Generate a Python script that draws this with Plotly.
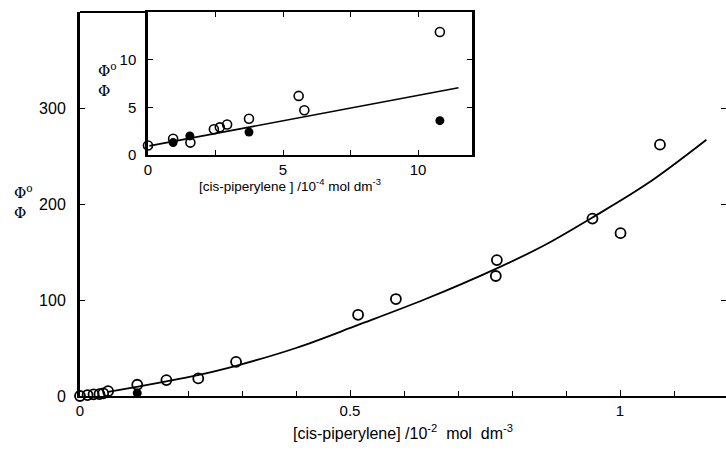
import plotly.graph_objects as go

# ---------------- main plot data (x in 10^-2 mol dm^-3) ----------------
main_open_x = [0.0, 0.014, 0.025, 0.036, 0.043, 0.052, 0.106, 0.16, 0.219, 0.289,
               0.515, 0.585, 0.772, 0.770, 0.949, 1.001, 1.074]
main_open_y = [0.0, 1.0, 1.7, 2.0, 2.8, 5.0, 11.7, 16.6, 18.3, 35.6,
               84.6, 101.0, 141.6, 125.0, 184.8, 169.6, 261.8]
main_filled_x = [0.106]
main_filled_y = [3.0]
main_curve_x = [0.052, 0.105, 0.16, 0.216, 0.289, 0.4, 0.515, 0.64, 0.772, 0.86,
                0.949, 1.05, 1.16]
main_curve_y = [4.2, 9.5, 15.2, 21.5, 31.5, 50.0, 74.0, 101.0, 133.0, 157.0,
                186.0, 221.0, 267.0]

# ---------------- inset data (x in 10^-4 mol dm^-3) ----------------
inset_open_x = [0.0, 0.93, 1.57, 2.44, 2.66, 2.93, 3.74, 5.58, 5.79, 10.81]
inset_open_y = [1.0, 1.7, 1.3, 2.7, 2.9, 3.2, 3.8, 6.2, 4.7, 12.9]
inset_filled_x = [0.93, 1.55, 3.74, 10.81]
inset_filled_y = [1.3, 2.0, 2.4, 3.6]
inset_line_x = [0.05, 11.5]
inset_line_y = [0.96, 7.05]

main_xticks = [0, 0.5, 1.0]
main_xticktext = ["0", "0.5", "1"]
main_yticks = [0, 100, 200, 300]
inset_xticks = [0, 5, 10]
inset_yticks = [0, 5, 10]

FONT = "Liberation Sans, Arial, sans-serif"
INK = "black"

fig = go.Figure()

# main
fig.add_trace(go.Scatter(x=main_curve_x, y=main_curve_y, mode="lines",
                         line=dict(color=INK, width=1.8, shape="spline", smoothing=1.0),
                         xaxis="x", yaxis="y", showlegend=False, hoverinfo="skip"))
fig.add_trace(go.Scatter(x=main_open_x, y=main_open_y, mode="markers",
                         marker=dict(symbol="circle-open", size=10, color=INK,
                                     line=dict(width=1.8, color=INK)),
                         xaxis="x", yaxis="y", showlegend=False, cliponaxis=False))
fig.add_trace(go.Scatter(x=main_filled_x, y=main_filled_y, mode="markers",
                         marker=dict(symbol="circle", size=9, color=INK),
                         xaxis="x", yaxis="y", showlegend=False, cliponaxis=False))
# right-side ticks of main y axis (no line)
fig.add_trace(go.Scatter(x=[None], y=[None], xaxis="x", yaxis="y3",
                         showlegend=False, hoverinfo="skip"))

# inset
fig.add_trace(go.Scatter(x=inset_line_x, y=inset_line_y, mode="lines",
                         line=dict(color=INK, width=1.6),
                         xaxis="x2", yaxis="y2", showlegend=False, hoverinfo="skip"))
fig.add_trace(go.Scatter(x=inset_open_x, y=inset_open_y, mode="markers",
                         marker=dict(symbol="circle-open", size=9, color=INK,
                                     line=dict(width=1.6, color=INK)),
                         xaxis="x2", yaxis="y2", showlegend=False, cliponaxis=False))
fig.add_trace(go.Scatter(x=inset_filled_x, y=inset_filled_y, mode="markers",
                         marker=dict(symbol="circle", size=9, color=INK),
                         xaxis="x2", yaxis="y2", showlegend=False, cliponaxis=False))

W, H = 726, 453
ml, mr, mt, mb = 80, 0, 12, 57
pw = W - ml - mr
ph = H - mt - mb
ix0 = (148 - ml) / pw
ix1 = (472 - ml) / pw
iy0 = (H - mb - 155) / ph


def px_x(p):
    return (p - ml) / pw


def px_y(p):
    return (H - mb - p) / ph


PHI_FONT = dict(size=15, family="DejaVu Serif, serif", color=INK)

fig.update_layout(
    width=W, height=H,
    margin=dict(l=ml, r=mr, t=mt, b=mb),
    paper_bgcolor="white", plot_bgcolor="white",
    font=dict(family=FONT, color=INK, size=15),
    xaxis=dict(domain=[0, 1], range=[0, pw / 540.0], showgrid=False, zeroline=False,
               showline=True, linecolor=INK, linewidth=2,
               tickmode="array", tickvals=main_xticks, ticktext=main_xticktext,
               ticks="inside", ticklen=6, tickwidth=1.3, tickcolor=INK,
               minor=dict(dtick=0.1, tick0=0, ticks="inside", ticklen=5,
                          tickwidth=1.2, tickcolor=INK, showgrid=False),
               tickfont=dict(size=15, color=INK), anchor="y",
               title=dict(text="[cis-piperylene] /10<sup>-2</sup>  mol  dm<sup>-3</sup>",
                          font=dict(size=16, color=INK), standoff=10)),
    yaxis=dict(domain=[0, 1], range=[0, 400], showgrid=False, zeroline=False,
               showline=True, linecolor=INK, linewidth=3,
               tickmode="array", tickvals=main_yticks,
               ticks="inside", ticklen=5, tickwidth=1.2, tickcolor=INK,
               tickfont=dict(size=16, color=INK), anchor="x", ticklabelstandoff=8),
    yaxis3=dict(overlaying="y", side="right", anchor="x", range=[0, 400],
                showgrid=False, zeroline=False, showline=False,
                tickmode="array", tickvals=main_yticks, showticklabels=False,
                ticks="inside", ticklen=5, tickwidth=1.2, tickcolor=INK),
    xaxis2=dict(domain=[ix0, ix1], range=[0, 12], anchor="y2",
                showgrid=False, zeroline=False,
                showline=True, linecolor=INK, linewidth=2, mirror="ticks",
                tickmode="array", tickvals=inset_xticks,
                ticks="inside", ticklen=5, tickwidth=1.2, tickcolor=INK,
                minor=dict(dtick=2.5, tick0=0, ticks="inside", ticklen=5,
                           tickwidth=1.2, tickcolor=INK, showgrid=False),
                tickfont=dict(size=15, color=INK)),
    yaxis2=dict(domain=[iy0, 1], range=[0, 15], anchor="x2",
                showgrid=False, zeroline=False,
                showline=True, linecolor=INK, linewidth=2.5, mirror="ticks",
                tickmode="array", tickvals=inset_yticks,
                ticks="inside", ticklen=5, tickwidth=1.2, tickcolor=INK,
                tickfont=dict(size=15, color=INK), ticklabelstandoff=6),
    shapes=[
        dict(type="line", xref="paper", yref="paper", x0=0, x1=ix0, y0=1, y1=1,
             line=dict(color=INK, width=2)),
    ],
    annotations=[
        dict(text="[cis-piperylene ] /10<sup>-4</sup> mol dm<sup>-3</sup>",
             xref="paper", yref="paper", x=px_x(290), y=px_y(185),
             showarrow=False, font=dict(size=13.5, color=INK),
             xanchor="center", yanchor="middle"),
        # main y label: Phi^o over Phi
        dict(text="Φ<sup>o</sup>", xref="paper", yref="paper",
             x=px_x(12), y=px_y(192), showarrow=False, font=PHI_FONT,
             xanchor="left", yanchor="middle"),
        dict(text="Φ", xref="paper", yref="paper",
             x=px_x(12), y=px_y(213), showarrow=False, font=PHI_FONT,
             xanchor="left", yanchor="middle"),
        # inset y label
        dict(text="Φ<sup>o</sup>", xref="paper", yref="paper",
             x=px_x(96), y=px_y(70), showarrow=False, font=PHI_FONT,
             xanchor="left", yanchor="middle"),
        dict(text="Φ", xref="paper", yref="paper",
             x=px_x(96), y=px_y(91), showarrow=False, font=PHI_FONT,
             xanchor="left", yanchor="middle"),
    ],
)

fig.write_html("out.html")
